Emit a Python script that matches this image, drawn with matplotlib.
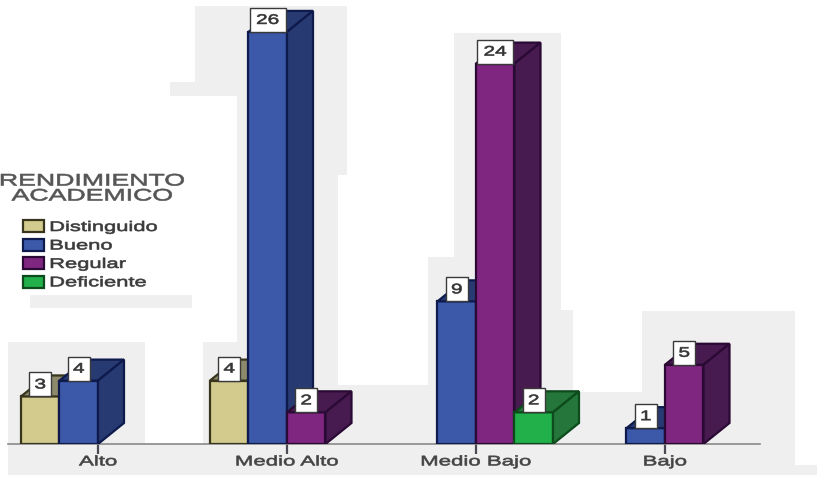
import matplotlib

matplotlib.use("Agg")
import matplotlib.pyplot as plt
from matplotlib.patches import Patch, Polygon, Rectangle
from matplotlib.patheffects import AbstractPathEffect
from matplotlib.transforms import Affine2D


WIDTH, HEIGHT = 817, 478
BASELINE = 444
UNIT_PX = 15.85

categories = ["Alto", "Medio Alto", "Medio Bajo", "Bajo"]
series_names = ["Distinguido", "Bueno", "Regular", "Deficiente"]
distinguido = [3, 4, 0, 0]
bueno = [4, 26, 9, 1]
regular = [0, 2, 24, 5]
deficiente = [0, 0, 2, 0]

# front, side, edge
COLORS = [
    ("#d3ca8e", "#8d8a6c", "#37351c"),
    ("#3c59a9", "#283a72", "#0e1a4c"),
    ("#7f2680", "#481b50", "#2a0a35"),
    ("#22b04b", "#25763a", "#0d4a1c"),
]
TEXT_COLOR = "#444444"
PANEL_GRAY = "#efefef"

GROUP_START = 98
GROUP_STEP = 189
BAR_W = 38.5
DEPTH_X = 26
DEPTH_Y = 21

# light panels behind the plot, x0, y0, x1, y1 in pixels from the top left
PANELS = [
    (8, 342, 145, 444),
    (8, 444, 795, 475),
    (795, 465, 817, 475),
    (195, 6, 347, 82),
    (170, 82, 237, 96),
    (237, 82, 347, 175),
    (237, 175, 338, 385),
    (203, 342, 237, 444),
    (237, 385, 430, 444),
    (30, 295, 192, 308),
    (454, 33, 561, 310),
    (428, 257, 454, 444),
    (454, 310, 573, 392),
    (454, 392, 642, 444),
    (642, 311, 795, 465),
]


class StretchX(AbstractPathEffect):
    """Widen glyphs horizontally around their centre or left edge, with a thin outline."""

    def __init__(self, factor, anchor=0.5, weight=0.45):
        super().__init__()
        self.factor = factor
        self.anchor = anchor
        self.weight = weight

    def draw_path(self, renderer, gc, tpath, affine, rgbFace=None):
        box = tpath.get_extents(affine)
        x0 = box.x0 + self.anchor * box.width
        wide = affine + Affine2D().translate(-x0, 0).scale(self.factor, 1).translate(x0, 0)
        gc0 = renderer.new_gc()
        gc0.copy_properties(gc)
        gc0.set_linewidth(self.weight)
        renderer.draw_path(gc0, tpath, wide, rgbFace)
        gc0.restore()


def draw_bar(ax, left, value, colors):
    front, side, edge = colors
    right = left + BAR_W
    ax.bar(left, value, width=BAR_W, align="edge", color=front, edgecolor=edge, linewidth=1.6, zorder=3)
    # depth offsets are in pixels, converted to data units on y
    dy = DEPTH_Y / UNIT_PX
    top = [(left, value), (right, value), (right + DEPTH_X, value + dy), (left + DEPTH_X, value + dy)]
    wall = [(right, 0), (right + DEPTH_X, dy), (right + DEPTH_X, value + dy), (right, value)]
    for points in (top, wall):
        ax.add_patch(Polygon(points, closed=True, facecolor=side, edgecolor=edge, linewidth=1.6, zorder=3))


def draw_value(ax, left, value):
    label = str(value)
    box_w = 22 if len(label) == 1 else 36
    cx = left + BAR_W / 2
    ax.add_patch(
        Rectangle(
            (cx - box_w / 2, value),
            box_w,
            24 / UNIT_PX,
            facecolor="white",
            edgecolor="#3a3a3a",
            linewidth=1.0,
            zorder=5,
        )
    )
    ax.text(
        cx,
        value + 12 / UNIT_PX,
        label,
        ha="center",
        va="center",
        fontsize=10,
        color="#333333",
        zorder=6,
        path_effects=[StretchX(1.5)],
    )


fig = plt.figure(figsize=(WIDTH / 100, HEIGHT / 100), dpi=100)
plt.rcParams["font.family"] = ["Liberation Sans", "DejaVu Sans"]

bg = fig.add_axes([0, 0, 1, 1], zorder=0)
bg.set_xlim(0, WIDTH)
bg.set_ylim(HEIGHT, 0)
bg.axis("off")
for x0, y0, x1, y1 in PANELS:
    bg.add_patch(Rectangle((x0, y0), x1 - x0, y1 - y0, facecolor=PANEL_GRAY, edgecolor="none"))

ax = fig.add_axes([0, (HEIGHT - BASELINE) / HEIGHT, 1, BASELINE / HEIGHT], zorder=1)
ax.patch.set_visible(False)
ax.set_xlim(0, WIDTH)
ax.set_ylim(0, BASELINE / UNIT_PX)
for name in ("top", "left", "right"):
    ax.spines[name].set_visible(False)
ax.spines["bottom"].set_bounds(8, 760)
ax.spines["bottom"].set_color("#8a8a8a")
ax.spines["bottom"].set_linewidth(1.2)
ax.set_yticks([])

group_centers = [GROUP_START + GROUP_STEP * i for i in range(len(categories))]
ax.set_xticks(group_centers)
ax.set_xticklabels(categories, fontsize=10, color=TEXT_COLOR)
ax.tick_params(axis="x", length=7, width=1.6, color="#4a4a55", pad=0.5)
for tick in ax.get_xticklabels():
    tick.set_path_effects([StretchX(1.6)])

all_series = [distinguido, bueno, regular, deficiente]
for g, center in enumerate(group_centers):
    for s, values in enumerate(all_series):
        if values[g] > 0:
            draw_bar(ax, center + (s - 2) * BAR_W, values[g], COLORS[s])
    for s, values in enumerate(all_series):
        if values[g] > 0:
            draw_value(ax, center + (s - 2) * BAR_W, values[g])

# legend, placed in pixel coordinates of the full figure
handles = [
    Patch(facecolor=COLORS[i][0], edgecolor=COLORS[i][2], linewidth=1.6, label=series_names[i])
    for i in range(len(series_names))
]
legend = bg.legend(
    handles=handles,
    loc="upper left",
    bbox_to_anchor=(23, 220),
    bbox_transform=bg.transData,
    frameon=False,
    fontsize=10,
    borderpad=0,
    borderaxespad=0,
    handlelength=1.5,
    handleheight=0.95,
    handletextpad=0.43,
    labelspacing=0.32,
    labelcolor="#3a3a3a",
)
for text in legend.get_texts():
    text.set_path_effects([StretchX(1.58, anchor=0)])

for line, y in (("RENDIMIENTO", 181), ("ACADEMICO", 196)):
    bg.text(
        92,
        y,
        line,
        ha="center",
        va="center",
        fontsize=12,
        color="#555555",
        path_effects=[StretchX(1.6)],
    )

fig.savefig("out.png", dpi=100)
plt.close(fig)
